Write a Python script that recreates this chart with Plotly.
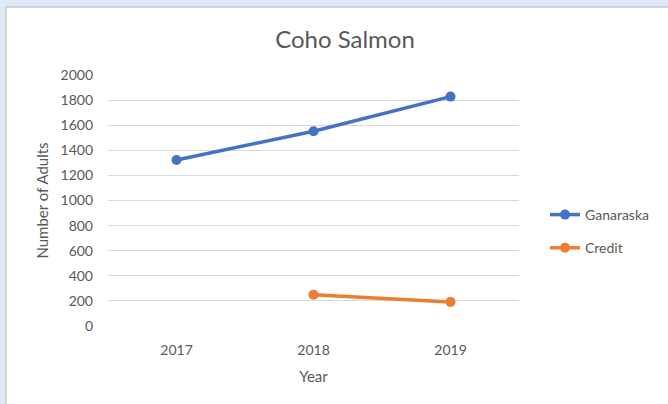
import plotly.graph_objects as go

years = ["2017", "2018", "2019"]
ganaraska = [1323, 1552, 1828]
credit_years = ["2018", "2019"]
credit = [250, 192]
y_ticks = [0, 200, 400, 600, 800, 1000, 1200, 1400, 1600, 1800, 2000]

FONT = "Lato"
TXT = "#595959"

fig = go.Figure()
fig.add_trace(go.Scatter(x=years, y=ganaraska, name="Ganaraska", mode="lines+markers",
                         line=dict(color="#4472C4", width=3.5),
                         marker=dict(color="#4472C4", size=10), legendgroup="g"))
fig.add_trace(go.Scatter(x=credit_years, y=credit, name="Credit", mode="lines+markers",
                         line=dict(color="#ED7D31", width=3.5),
                         marker=dict(color="#ED7D31", size=10), legendgroup="c"))

L, R, T, B = 108, 149, 75, 78
W, H = 668, 404
pw, ph = W - L - R, H - T - B

def px_x(x):
    return (x - L) / pw

def px_y(y):
    return (H - B - y) / ph

fig.add_shape(type="rect", xref="paper", yref="paper",
              x0=px_x(6), x1=px_x(680), y0=px_y(7), y1=px_y(420),
              fillcolor="white", line=dict(color="#c9c9c9", width=1.5), layer="below")

fig.update_layout(
    width=W, height=H,
    margin=dict(l=L, r=R, t=T, b=B),
    paper_bgcolor="#dde9f6",
    plot_bgcolor="white",
    font=dict(family=FONT, color=TXT, size=14),
    title=dict(text="Coho Salmon", x=345 / W, xanchor="center", xref="container",
               y=1 - 40 / H, yanchor="middle", font=dict(size=24, color=TXT, family=FONT)),
    showlegend=True,
    legend=dict(x=px_x(545), xanchor="left", y=px_y(199), yanchor="top",
                tracegroupgap=12, font=dict(size=14, color=TXT, family=FONT),
                bgcolor="rgba(0,0,0,0)", itemwidth=30),
    xaxis=dict(type="category", categoryorder="array", categoryarray=years,
               range=[-0.5, 2.5], showgrid=False, showline=False, zeroline=False,
               ticks="", ticklabelstandoff=14,
               title=dict(text="Year", standoff=14, font=dict(size=15, color=TXT))),
    yaxis=dict(range=[0, 2000], tickvals=y_ticks, showgrid=True, gridcolor="#d9d9d9",
               gridwidth=1, zeroline=False, showline=False, ticks="",
               ticklabelstandoff=14,
               title=dict(text="Number of Adults", standoff=8, font=dict(size=15, color=TXT))),
)

fig.write_html("out.html")
